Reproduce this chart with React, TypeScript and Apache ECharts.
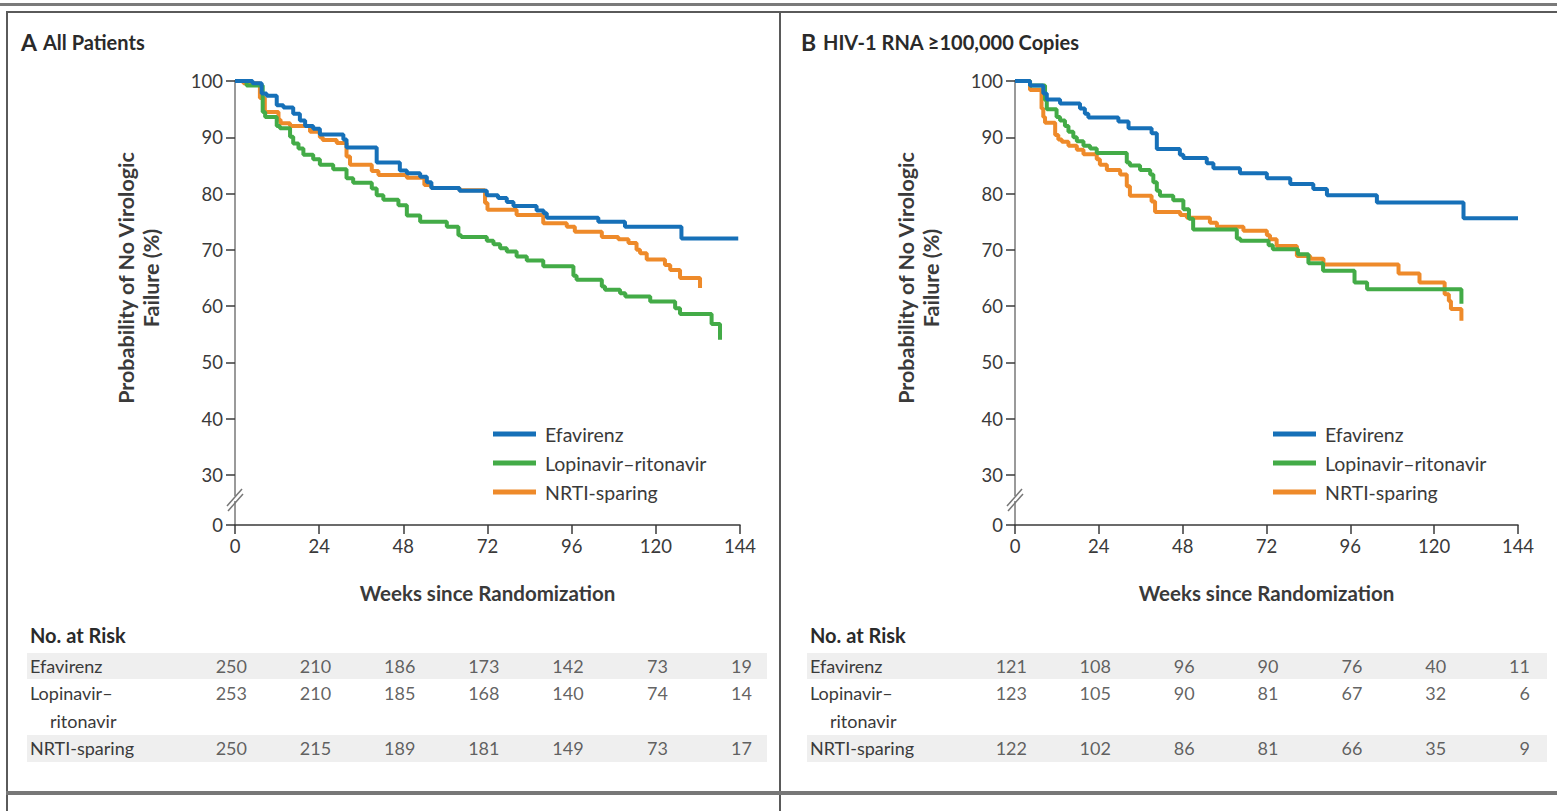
import React, { useEffect, useRef } from 'react';
import * as echarts from 'echarts';

// ---------- data ----------
const weekTicks = [0, 24, 48, 72, 96, 120, 144];
const yTickValues = [30, 40, 50, 60, 70, 80, 90, 100];
const BREAK_VALUE = 21.1; // axis bottom, labelled "0" (broken axis)
const seriesNames = ['Efavirenz', 'Lopinavir–ritonavir', 'NRTI-sparing'];
const seriesColors = ['#1670b8', '#43ab47', '#ee8a2a'];
const riskRowLabels = ['Efavirenz', 'Lopinavir–', 'ritonavir', 'NRTI-sparing'];
const riskRowOfSeries = ['Efavirenz', 'Lopinavir–', 'NRTI-sparing'];

// Panel A: all patients (week, % without virologic failure)
const allEfavirenz = [
  [0, 100], [5, 99.6], [7.6, 97.8], [9, 97.4], [11.9, 95.7], [13.8, 95.3], [16.6, 94.2], [18.5, 93],
  [20, 92], [22.3, 91.5], [24.2, 90.5], [30.9, 89.6], [31.8, 88.2], [40.4, 85.5], [47, 84.1],
  [49, 83.6], [52.8, 83], [54.7, 82], [56, 81], [64, 80.5], [71.8, 79.7], [75, 79.2], [77.5, 78.5],
  [79.4, 77.8], [86, 77], [88, 76.5], [88.9, 75.7], [103.6, 75], [111.2, 74.1], [127.3, 72], [143.5, 72],
];
const allLopinavir = [
  [0, 100], [3.3, 99.2], [7.9, 94.5], [8.6, 93.6], [11.9, 92], [12.8, 91.6], [15.7, 90.1], [16.6, 88.9],
  [18.1, 88], [19.5, 86.9], [22.3, 86.1], [24.2, 85.1], [28, 84.3], [31.8, 82.7], [33.7, 81.9],
  [39, 80.9], [40.4, 79.7], [42.3, 78.9], [46.6, 77.9], [49, 76.1], [52.8, 75], [60.4, 74.1],
  [63.7, 72.6], [64.5, 72.3], [71.8, 71.6], [73.7, 71], [75.6, 70.3], [77.5, 69.7], [80.3, 68.8],
  [83.2, 68.1], [87.9, 67.1], [96.5, 65.4], [97.4, 64.7], [104.6, 63.5], [105.5, 62.9], [109.8, 62.3],
  [111.3, 61.7], [118.4, 60.8], [125.5, 59.6], [126.9, 58.6], [135.9, 56.8], [138.3, 54],
];
const allNrti = [
  [0, 100], [2.4, 99.6], [7.1, 97], [8.5, 94.5], [12.4, 93.1], [13, 92.5], [15.7, 92], [21.4, 91],
  [24.2, 90], [25, 89.5], [29, 89], [31.8, 86.6], [32.8, 85.1], [39, 84], [40.9, 83.3], [49, 82.8],
  [54, 81.5], [56, 81], [64, 80.6], [71.3, 78.3], [72, 77.1], [80.3, 76.2], [87.9, 74.7], [94.6, 74.1],
  [96.9, 73.2], [104.6, 72.3], [109.3, 71.9], [112.2, 71.2], [114.5, 70], [115.5, 69.4], [117.4, 68.3],
  [122.6, 67.3], [124.1, 66.4], [126.9, 65], [132.6, 63.2],
];

// Panel B: HIV-1 RNA >= 100,000 copies
const highEfavirenz = [
  [0, 100], [4.3, 99.2], [8.1, 97.8], [9.1, 96.7], [12.9, 96], [18.6, 95.1], [20, 94.2], [21, 93.5],
  [29.6, 92.8], [32.5, 91.6], [39.1, 90.7], [40.6, 87.9], [47.2, 86.9], [48.2, 86.3], [54.9, 85.4],
  [56.8, 84.5], [64.4, 83.6], [72.1, 82.7], [78.8, 81.7], [85.4, 80.8], [89.3, 79.7], [103.6, 78.4],
  [128.4, 75.6], [144, 75.6],
];
const highLopinavir = [
  [0, 100], [4.3, 99.2], [8.6, 96.6], [9.1, 95], [11.9, 93.6], [12.9, 93], [14.3, 92], [15.3, 91],
  [16.7, 90], [17.7, 89.3], [19.6, 88.5], [21.5, 88], [23.4, 87.2], [32, 85.5], [32.9, 85], [35.8, 84.2],
  [38.7, 83.4], [39.6, 82], [40.6, 80.5], [41.5, 79.6], [45.3, 78.8], [48.2, 77.2], [49.8, 75.5],
  [51, 73.6], [63.5, 72], [64.5, 71.6], [72.6, 70.8], [73.8, 70.1], [81, 69.2], [84, 67.6], [88.2, 66.3],
  [97.2, 64.2], [100.8, 63], [127.8, 60.4],
];
const highNrti = [
  [0, 100], [4.3, 98.4], [7.6, 95.1], [8.1, 93.6], [8.6, 92.6], [11.5, 90.4], [12.4, 89.6], [13.4, 89.2],
  [15.3, 88.5], [17.7, 87.8], [19.6, 87], [23.4, 86.1], [24.3, 85.1], [26.3, 84.2], [30.1, 83.4],
  [32, 81.3], [32.9, 79.6], [39.1, 78.6], [40.1, 76.7], [47.3, 76.2], [49.2, 75.7], [55.8, 74.8],
  [57.8, 74.1], [65.4, 73.4], [72.1, 72.6], [73, 71.9], [74.9, 70.7], [80.7, 68.9], [84.5, 68.4],
  [88.3, 67.4], [109.8, 65.8], [115.8, 64.2], [123, 62.1], [124.2, 60.9], [124.8, 59.5], [127.8, 57.4],
];

// Numbers at risk at weekTicks
const riskAllEfavirenz = [250, 210, 186, 173, 142, 73, 19];
const riskAllLopinavir = [253, 210, 185, 168, 140, 74, 14];
const riskAllNrti = [250, 215, 189, 181, 149, 73, 17];
const riskHighEfavirenz = [121, 108, 96, 90, 76, 40, 11];
const riskHighLopinavir = [123, 105, 90, 81, 67, 32, 6];
const riskHighNrti = [122, 102, 86, 81, 66, 35, 9];

const panelTitles = [
  { letter: 'A', text: 'All Patients' },
  { letter: 'B', text: 'HIV-1 RNA ≥100,000 Copies' },
];
const xAxisTitle = 'Weeks since Randomization';
const yAxisTitle = 'Probability of No Virologic\nFailure (%)';
const riskTitle = 'No. at Risk';

// ---------- layout ----------
const FONT = 'Lato, "Noto Sans", sans-serif';
const TEXT = '#3a3a3a';
const panels = [
  { x0: 0, plotLeft: 235, plotWidth: 505 },
  { x0: 780, plotLeft: 1015, plotWidth: 503 },
];
const PLOT_TOP = 81;
const PLOT_HEIGHT = 444;
const RISK_TOP = 652;
const RISK_HEIGHT = 110;

export default function App() {
  const ref = useRef<HTMLDivElement>(null);

  useEffect(() => {
    if (!ref.current) return;
    const chart = echarts.init(ref.current, undefined, { renderer: 'svg' });

    const curveSets = [
      [allEfavirenz, allLopinavir, allNrti],
      [highEfavirenz, highLopinavir, highNrti],
    ];
    const riskSets = [
      [riskAllEfavirenz, riskAllLopinavir, riskAllNrti],
      [riskHighEfavirenz, riskHighLopinavir, riskHighNrti],
    ];

    const grid: any[] = [];
    const xAxis: any[] = [];
    const yAxis: any[] = [];
    const series: any[] = [];
    const legend: any[] = [];
    const graphic: any[] = [];

    panels.forEach((p, pi) => {
      grid.push({ left: p.plotLeft, top: PLOT_TOP, width: p.plotWidth, height: PLOT_HEIGHT });
      grid.push({ left: p.plotLeft, top: RISK_TOP, width: p.plotWidth, height: RISK_HEIGHT });

      const gPlot = pi * 2;
      const gRisk = pi * 2 + 1;

      xAxis.push({
        type: 'value', gridIndex: gPlot, min: 0, max: 144, interval: 24,
        name: xAxisTitle, nameLocation: 'middle', nameGap: 57,
        nameTextStyle: { fontFamily: FONT, fontSize: 20.5, fontWeight: 'bold', color: TEXT },
        axisLine: { show: true, lineStyle: { color: '#3a3a3a', width: 1.5 } },
        axisTick: { show: true, length: 9, lineStyle: { color: '#3a3a3a', width: 1.5 } },
        axisLabel: { fontFamily: FONT, fontSize: 18.5, color: TEXT, margin: 11 },
        splitLine: { show: false },
      });
      xAxis.push({
        type: 'value', gridIndex: gRisk, min: 0, max: 144, interval: 24,
        axisLine: { show: false }, axisTick: { show: false }, axisLabel: { show: false },
        splitLine: { show: false },
      });

      const tickVals = [BREAK_VALUE, ...yTickValues];
      yAxis.push({
        type: 'value', gridIndex: gPlot, min: BREAK_VALUE, max: 100,
        name: yAxisTitle, nameLocation: 'middle', nameGap: 72,
        nameTextStyle: {
          fontFamily: FONT, fontSize: 21.5, fontWeight: 'bold', color: TEXT, lineHeight: 25,
          padding: [0, 0, 0, 50],
        },
        axisLine: { show: true, lineStyle: { color: '#9a9a9a', width: 2 } },
        axisTick: { show: true, length: 9, customValues: tickVals, lineStyle: { color: '#3a3a3a', width: 1.5 } },
        axisLabel: {
          fontFamily: FONT, fontSize: 18.5, color: TEXT, margin: 12, customValues: tickVals,
          formatter: (v: number) => (v < 30 ? '0' : String(v)),
        },
        splitLine: { show: false },
      });
      yAxis.push({
        type: 'category', gridIndex: gRisk, data: riskRowLabels, inverse: true,
        axisLine: { show: false }, axisTick: { show: false },
        axisLabel: {
          fontFamily: FONT, fontSize: 18, color: TEXT, align: 'left', margin: 205,
          formatter: (v: string) => (v === 'ritonavir' ? '{ind|' + v + '}' : v),
          rich: { ind: { fontFamily: FONT, fontSize: 18, color: TEXT, padding: [0, 0, 0, 20] } },
        },
        splitLine: { show: false },
      });

      // curves: drawn orange, green, blue so blue sits on top
      [2, 1, 0].forEach((si) => {
        series.push({
          name: seriesNames[si], type: 'line', step: 'end',
          xAxisIndex: gPlot, yAxisIndex: gPlot,
          data: curveSets[pi][si], showSymbol: false, symbol: 'none',
          lineStyle: { color: seriesColors[si], width: 4 },
          itemStyle: { color: seriesColors[si] },
          z: 3 + (2 - si),
        });
      });

      // risk numbers
      [0, 1, 2].forEach((si) => {
        const vals = riskSets[pi][si];
        series.push({
          name: 'risk-' + pi + '-' + si, type: 'scatter',
          xAxisIndex: gRisk, yAxisIndex: gRisk,
          symbolSize: 1, itemStyle: { color: 'rgba(0,0,0,0)' },
          data: weekTicks.map((w) => [w, riskRowOfSeries[si]]),
          label: {
            show: true, position: 'inside', align: 'right', offset: [12, 0],
            fontFamily: FONT, fontSize: 18, color: TEXT,
            formatter: (prm: any) => String(vals[prm.dataIndex]),
          },
          silent: true, z: 5,
        });
      });

      legend.push({
        data: seriesNames, orient: 'vertical', left: p.x0 + 488, top: 419,
        itemWidth: 43, itemHeight: 5, itemGap: 9, icon: 'rect',
        textStyle: { fontFamily: FONT, fontSize: 19.5, color: TEXT, padding: [0, 0, 0, 4] },
        selectedMode: false,
      });

      graphic.push({
        type: 'text', left: p.x0 + 21, top: 30,
        style: { text: panelTitles[pi].letter, font: 'bold 23px ' + FONT, fill: '#2a2a2a' },
      });
      graphic.push({
        type: 'text', left: p.x0 + 43, top: 32,
        style: { text: panelTitles[pi].text, font: 'bold 20px ' + FONT, fill: '#2a2a2a' },
      });
      graphic.push({
        type: 'text', left: p.x0 + 30, top: 625,
        style: { text: riskTitle, font: 'bold 20px ' + FONT, fill: '#2a2a2a' },
      });
      graphic.push({ type: 'rect', z: -10, shape: { x: p.x0 + 27, y: 653, width: 740, height: 26 }, style: { fill: '#efefef' } });
      graphic.push({ type: 'rect', z: -10, shape: { x: p.x0 + 27, y: 735, width: 740, height: 27 }, style: { fill: '#efefef' } });
      const ax = p.plotLeft;
      graphic.push({ type: 'rect', z: 10, shape: { x: ax - 3, y: 496, width: 6, height: 5 }, style: { fill: '#fff' } });
      graphic.push({ type: 'line', z: 11, shape: { x1: ax - 8, y1: 506, x2: ax + 7, y2: 489 }, style: { stroke: '#777', lineWidth: 1.5 } });
      graphic.push({ type: 'line', z: 11, shape: { x1: ax - 7, y1: 511, x2: ax + 8, y2: 494 }, style: { stroke: '#777', lineWidth: 1.5 } });
    });

    graphic.push({ type: 'rect', shape: { x: 0, y: 3, width: 1557, height: 3 }, style: { fill: '#7a7a7a' } });
    graphic.push({ type: 'rect', shape: { x: 6, y: 11, width: 1551, height: 2 }, style: { fill: '#5a5a5a' } });
    graphic.push({ type: 'rect', shape: { x: 6, y: 11, width: 2, height: 800 }, style: { fill: '#5a5a5a' } });
    graphic.push({ type: 'rect', shape: { x: 779, y: 11, width: 2, height: 800 }, style: { fill: '#5a5a5a' } });
    graphic.push({ type: 'rect', shape: { x: 6, y: 791, width: 1551, height: 4 }, style: { fill: '#777' } });

    chart.setOption({
      animation: false,
      backgroundColor: '#ffffff',
      grid, xAxis, yAxis, series, legend, graphic,
    });

    return () => chart.dispose();
  }, []);

  return (
    <div
      ref={ref}
      style={{ position: 'fixed', left: 0, top: 0, width: 1557, height: 811, background: '#fff' }}
    />
  );
}
